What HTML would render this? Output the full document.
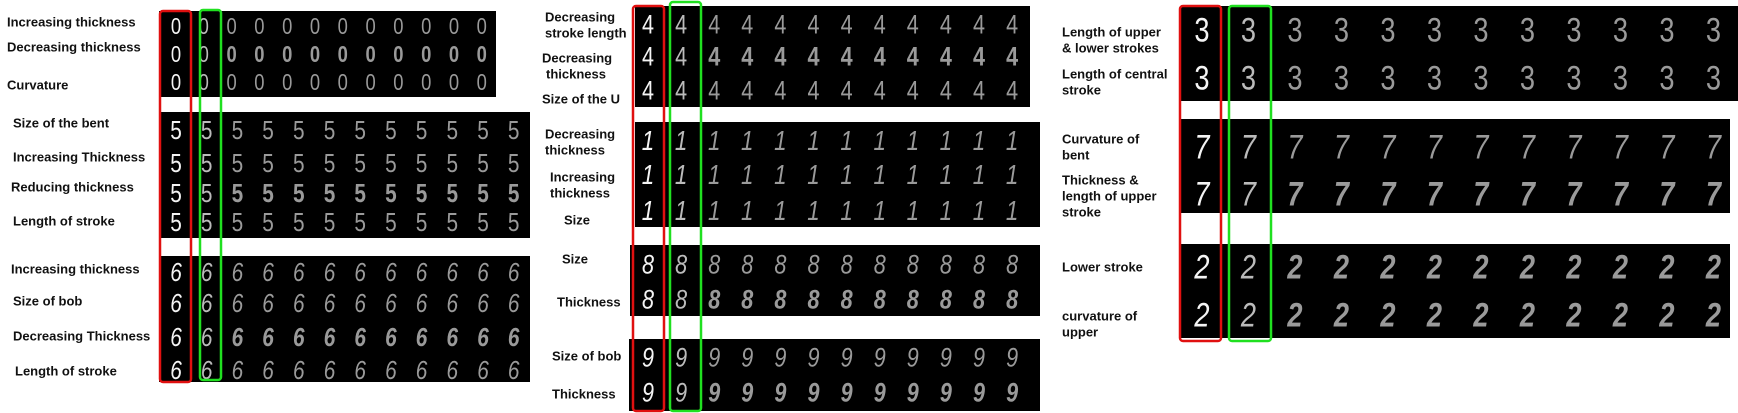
<!DOCTYPE html>
<html><head><meta charset="utf-8"><style>
html,body{margin:0;padding:0;background:#fff;}
svg{display:block;}
.lbl{font-family:"Liberation Sans",sans-serif;font-weight:bold;font-size:13px;fill:#111;}
.dg{font-family:"Liberation Sans",sans-serif;text-anchor:middle;dominant-baseline:central;}
</style></head><body>
<svg id="fig" width="1738" height="413" viewBox="0 0 1738 413"></svg>
<script>
const blockDigits = ['0','5','6','4','1','8','9','3','7','2'];
const blockX0 = [159,159,159,635,635,630,629,1180,1180,1180];
const blockX1 = [496,530,530,1030,1040,1040,1040,1738,1730,1730];
const blockY0 = [11,112,256,6,122,245,339,6,119,244];
const blockY1 = [97,238,382,107,227,316,411,101,213,338];
const colFirst = [176,176,176,648,648,648,648,1202,1202,1202];
const colStep = [27.8,30.7,30.7,33.1,33.1,33.1,33.1,46.5,46.5,46.5];
const fontSz = [23,26,26,27,28,27,27,34,34,34];
const italicBlock = [false,false,true,false,true,true,true,false,true,true];
const rowYs = [[27,55,83],[130,163,193,222],[272,303,337,370],[25,57,91],[141,175,211],[265,300],[358,393],[30,78],[147,194],[267,315]];
const boldRow = [[0,1,0],[0,0,1,0],[0,0,1,0],[0,1,0],[0,0,0],[0,1],[0,1],[0,0],[0,1],[1,1]];
const labelLines = [
 ['Increasing thickness',7,22],['Decreasing thickness',7,47],['Curvature',7,85],
 ['Size of the bent',13,123],['Increasing Thickness',13,157],['Reducing thickness',11,187],['Length of stroke',13,221],
 ['Increasing thickness',11,269],['Size of bob',13,301],['Decreasing Thickness',13,336],['Length of stroke',15,371],
 ['Decreasing',545,17],['stroke length',545,33],['Decreasing',542,58],['thickness',546,74],['Size of the U',542,99],
 ['Decreasing',545,134],['thickness',545,150],['Increasing',550,177],['thickness',550,193],['Size',564,220],
 ['Size',562,259],['Thickness',557,302],['Size of bob',552,356],['Thickness',552,394],
 ['Length of upper',1062,32],['& lower strokes',1062,48],['Length of central',1062,74],['stroke',1062,90],
 ['Curvature of',1062,139],['bent',1062,155],['Thickness &',1062,180],['length of upper',1062,196],['stroke',1062,212],
 ['Lower stroke',1062,267],['curvature of',1062,316],['upper',1062,332]
];
const NS='http://www.w3.org/2000/svg';
const svg=document.getElementById('fig');
function mk(t,a){const e=document.createElementNS(NS,t);for(const k in a)e.setAttribute(k,a[k]);return e;}
for(let b=0;b<blockDigits.length;b++){
  const g=mk('g',{});
  
  
  const r=mk('rect',{x:blockX0[b],y:blockY0[b],width:blockX1[b]-blockX0[b],height:blockY1[b]-blockY0[b],fill:'#000'});
  
  
  g.appendChild(r);
  rowYs[b].forEach((y,ri)=>{
    for(let c=0;c<12;c++){
      const x=colFirst[b]+c*colStep[b];
      const col=c===0?'#f4f4f4':(c===1?'#bbb':'#9a9a9a');
      const bold=(c>=2&&boldRow[b][ri])?'bold':'normal';
      const t=mk('text',{x:x,y:y,class:'dg',fill:col,'font-size':fontSz[b],'font-weight':bold,'font-style':italicBlock[b]?'italic':'normal',transform:'translate('+x+' '+y+') scale(0.8 1) translate('+(-x)+' '+(-y)+')'});
      
      
      t.textContent=blockDigits[b];
      g.appendChild(t);
    }
  });
  svg.appendChild(g);
}
labelLines.forEach(l=>{
  const t=mk('text',{x:l[1],y:l[2],class:'lbl','dominant-baseline':'central'});
  
  
  t.textContent=l[0];
  svg.appendChild(t);
});
const boxes=[[160,11,31,371,'#e01010'],[200,10,21,370,'#20e020'],[633,6,31,405,'#e01010'],[670,2,31,409,'#20e020'],[1180,6,41,335,'#e01010'],[1229,6,42,335,'#20e020']];
boxes.forEach(bx=>{
  const r=mk('rect',{x:bx[0],y:bx[1],width:bx[2],height:bx[3],rx:3,fill:'none',stroke:bx[4],'stroke-width':2.5});
  
  
  svg.appendChild(r);
});
</script>
</body></html>
